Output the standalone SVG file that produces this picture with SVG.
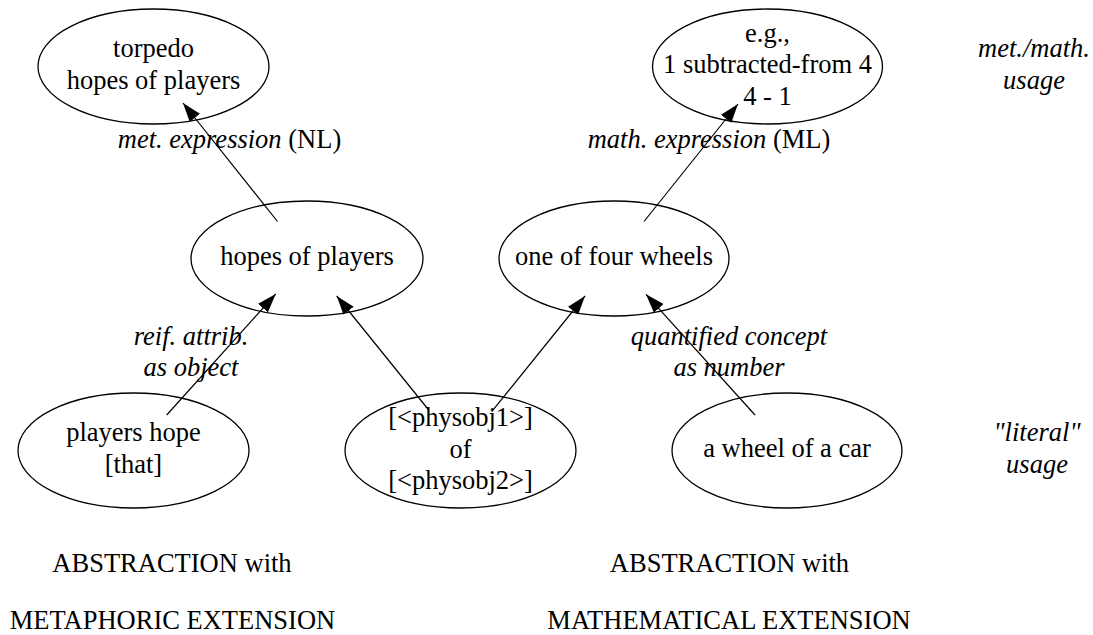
<svg xmlns="http://www.w3.org/2000/svg" width="1093" height="635" viewBox="0 0 1093 635">
<style>
  .node ellipse { fill: none; stroke: #000; stroke-width: 1.3; }
  text { font-family: "Liberation Serif", "Times New Roman", serif; font-size: 26.5px; text-anchor: middle; fill: #000; }
  .it { font-style: italic; }
  .edges line { stroke: #000; stroke-width: 1.2; marker-end: url(#arrow); }
</style>
<defs>
  <marker id="arrow" markerUnits="userSpaceOnUse" markerWidth="20" markerHeight="14" refX="19" refY="6.5" orient="auto">
    <path d="M0,0 L19,6.5 L0,13 z" fill="#000"/>
  </marker>
</defs>
<rect width="1093" height="635" fill="#fff"/>

<g class="edges" id="connectors">
  <line x1="277.5" y1="221.5" x2="183" y2="103"/>
  <line x1="166.7" y1="415" x2="275.7" y2="294"/>
  <line x1="428.3" y1="409.5" x2="336.7" y2="296"/>
  <line x1="491.7" y1="411.7" x2="585" y2="296"/>
  <line x1="755" y1="415" x2="646" y2="294.3"/>
  <line x1="644" y1="221.5" x2="738" y2="104"/>
</g>

<g class="node" id="torpedo">
  <ellipse cx="153.5" cy="66.5" rx="115.5" ry="57.5"/>
  <text x="153.5" y="57.2">torpedo</text>
  <text x="153.5" y="88.7">hopes of players</text>
</g>
<g class="node" id="hopes">
  <ellipse cx="307" cy="258.5" rx="116" ry="57.5"/>
  <text x="307" y="265">hopes of players</text>
</g>
<g class="node" id="eg">
  <ellipse cx="767.5" cy="66.5" rx="115" ry="57.5"/>
  <text x="767.5" y="41.7">e.g.,</text>
  <text x="767.5" y="73.2">1 subtracted-from 4</text>
  <text x="767.5" y="104.7">4 - 1</text>
</g>
<g class="node" id="onefour">
  <ellipse cx="614" cy="258.5" rx="115" ry="57.5"/>
  <text x="614" y="265">one of four wheels</text>
</g>
<g class="node" id="playershope">
  <ellipse cx="133.5" cy="450.5" rx="115.5" ry="57.5"/>
  <text x="133.5" y="441">players hope</text>
  <text x="133.5" y="472.5">[that]</text>
</g>
<g class="node" id="physobj">
  <ellipse cx="460.5" cy="450.5" rx="115.5" ry="57.5"/>
  <text x="460.5" y="426">[&lt;physobj1&gt;]</text>
  <text x="460.5" y="457.5">of</text>
  <text x="460.5" y="489">[&lt;physobj2&gt;]</text>
</g>
<g class="node" id="wheel">
  <ellipse cx="787" cy="450.5" rx="115" ry="57.5"/>
  <text x="787" y="457">a wheel of a car</text>
</g>

<g id="edge-labels">
  <text x="229.5" y="148"><tspan class="it">met. expression</tspan> (NL)</text>
  <text x="709" y="148"><tspan class="it">math. expression</tspan> (ML)</text>
  <text class="it" x="191" y="344.5">reif. attrib.</text>
  <text class="it" x="191" y="375.5">as object</text>
  <text class="it" x="729" y="344.5">quantified concept</text>
  <text class="it" x="729" y="375.5">as number</text>
</g>

<g id="side-labels">
  <text class="it" x="1034" y="57.2">met./math.</text>
  <text class="it" x="1034" y="88.7">usage</text>
  <text class="it" x="1037" y="441">"literal"</text>
  <text class="it" x="1037" y="472.5">usage</text>
</g>

<g id="bottom-labels">
  <text x="172" y="572">ABSTRACTION with</text>
  <text x="172.5" y="629">METAPHORIC EXTENSION</text>
  <text x="729.5" y="572">ABSTRACTION with</text>
  <text x="729" y="629">MATHEMATICAL EXTENSION</text>
</g>
</svg>
